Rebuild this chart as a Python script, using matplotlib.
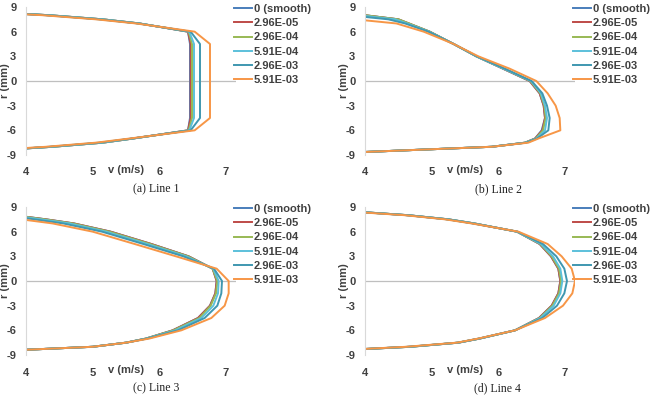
import matplotlib
matplotlib.use('Agg')

import matplotlib.pyplot as plt
import matplotlib.transforms as mtransforms

plt.rcParams['axes.unicode_minus'] = False

# radial positions (mm) shared by every profile
r_mm = [8.8, 8, 7.5, 7, 6, 4.5, 3, 1.5, 0, -1.5, -3, -4.5, -6, -7, -7.5, -8, -8.8]

labels = ['0 (smooth)', '2.96E-05', '2.96E-04', '5.91E-04', '2.96E-03', '5.91E-03']
captions = ['(a) Line 1', '(b) Line 2', '(c) Line 3', '(d) Line 4']

# velocity v (m/s) at each r, one row per roughness value
line1 = [
    [2.5, 4.35, 5.15, 5.7, 6.43, 6.46, 6.46, 6.46, 6.46, 6.46, 6.46, 6.46, 6.43, 5.6, 5.15, 4.4, 2.8],
    [2.5, 4.35, 5.15, 5.7, 6.43, 6.47, 6.47, 6.47, 6.47, 6.47, 6.47, 6.47, 6.43, 5.6, 5.15, 4.4, 2.8],
    [2.5, 4.35, 5.15, 5.7, 6.44, 6.49, 6.49, 6.49, 6.49, 6.49, 6.49, 6.49, 6.44, 5.6, 5.15, 4.4, 2.8],
    [2.5, 4.35, 5.15, 5.7, 6.45, 6.52, 6.52, 6.52, 6.52, 6.52, 6.52, 6.52, 6.45, 5.6, 5.15, 4.4, 2.8],
    [2.5, 4.3, 5.1, 5.68, 6.47, 6.61, 6.61, 6.61, 6.61, 6.61, 6.61, 6.61, 6.47, 5.58, 5.1, 4.35, 2.8],
    [2.4, 4.25, 5.05, 5.65, 6.53, 6.76, 6.76, 6.76, 6.76, 6.76, 6.76, 6.76, 6.53, 5.55, 5.05, 4.3, 2.7],
]
line2 = [
    [3.1, 4.0, 4.5, 4.65, 4.97, 5.33, 5.67, 6.07, 6.47, 6.62, 6.68, 6.7, 6.65, 6.55, 6.4, 5.9, 3.5],
    [3.1, 4.0, 4.5, 4.66, 4.97, 5.33, 5.67, 6.07, 6.47, 6.62, 6.68, 6.7, 6.66, 6.55, 6.4, 5.9, 3.5],
    [3.1, 4.0, 4.5, 4.66, 4.97, 5.33, 5.67, 6.08, 6.48, 6.63, 6.69, 6.71, 6.67, 6.56, 6.4, 5.9, 3.5],
    [3.0, 3.9, 4.45, 4.63, 4.96, 5.33, 5.67, 6.08, 6.49, 6.64, 6.7, 6.73, 6.7, 6.57, 6.41, 5.9, 3.5],
    [2.6, 3.75, 4.35, 4.6, 4.95, 5.33, 5.68, 6.1, 6.5, 6.66, 6.73, 6.77, 6.75, 6.58, 6.42, 5.9, 3.5],
    [2.0, 3.1, 3.85, 4.47, 4.88, 5.33, 5.7, 6.17, 6.57, 6.74, 6.86, 6.92, 6.93, 6.6, 6.45, 5.9, 3.5],
]
line3 = [
    [3.0, 3.82, 4.3, 4.72, 5.27, 5.88, 6.44, 6.8, 6.86, 6.84, 6.76, 6.58, 6.2, 5.8, 5.5, 5.0, 2.8],
    [3.0, 3.82, 4.3, 4.72, 5.27, 5.88, 6.44, 6.8, 6.86, 6.84, 6.76, 6.58, 6.2, 5.8, 5.5, 5.0, 2.8],
    [3.0, 3.8, 4.28, 4.7, 5.25, 5.86, 6.43, 6.8, 6.87, 6.85, 6.77, 6.6, 6.21, 5.8, 5.5, 5.0, 2.8],
    [2.9, 3.75, 4.22, 4.65, 5.2, 5.82, 6.4, 6.81, 6.89, 6.88, 6.81, 6.63, 6.24, 5.81, 5.5, 5.0, 2.8],
    [2.8, 3.65, 4.12, 4.56, 5.14, 5.76, 6.36, 6.82, 6.94, 6.93, 6.87, 6.68, 6.28, 5.82, 5.5, 5.0, 2.8],
    [2.6, 3.45, 3.93, 4.4, 5.0, 5.63, 6.25, 6.86, 7.04, 7.04, 6.98, 6.78, 6.33, 5.85, 5.5, 5.0, 2.8],
]
line4 = [
    [3.2, 4.65, 5.25, 5.64, 6.28, 6.62, 6.79, 6.9, 6.93, 6.9, 6.8, 6.61, 6.25, 5.72, 5.4, 4.68, 2.7],
    [3.2, 4.65, 5.25, 5.64, 6.28, 6.62, 6.79, 6.9, 6.93, 6.9, 6.8, 6.61, 6.25, 5.72, 5.4, 4.68, 2.7],
    [3.2, 4.65, 5.25, 5.64, 6.28, 6.63, 6.8, 6.91, 6.94, 6.91, 6.81, 6.62, 6.25, 5.72, 5.4, 4.68, 2.7],
    [3.2, 4.65, 5.25, 5.64, 6.28, 6.64, 6.82, 6.93, 6.96, 6.93, 6.83, 6.63, 6.25, 5.72, 5.4, 4.68, 2.7],
    [3.15, 4.63, 5.23, 5.62, 6.29, 6.67, 6.87, 6.99, 7.03, 6.99, 6.88, 6.66, 6.25, 5.71, 5.39, 4.65, 2.7],
    [3.1, 4.6, 5.2, 5.6, 6.3, 6.74, 6.95, 7.1, 7.15, 7.11, 6.97, 6.7, 6.25, 5.7, 5.38, 4.62, 2.7],
]

colors = ['#4a7ebb', '#be4b48', '#98b954', '#5cc0da', '#3f97b0', '#f79646']
tick_font = {'family': 'Liberation Sans', 'weight': 'bold', 'size': 8}

W, H = 659.0, 413.0
fig = plt.figure(figsize=(W / 100, H / 100), dpi=100)

# (left, top) of each plot area in pixels, and caption centres
boxes = [(26, 7), (365, 7), (26, 207), (365, 207)]
cap_pos = [(156, 189), (498, 189), (156, 388), (497, 388)]
aw, ah = 210, 148

for k, data in enumerate([line1, line2, line3, line4]):
    x0, y0 = boxes[k]
    ax = fig.add_axes([x0 / W, 1 - (y0 + ah) / H, aw / W, ah / H])
    for vals, lab, c in zip(data, labels, colors):
        ax.plot(vals, r_mm, color=c, lw=1.4, label=lab)
    ax.axhline(0, color='#bfbfbf', lw=0.9, zorder=0)

    ax.set_xlim(4, 7.15)
    ax.set_ylim(-9, 9)
    ax.set_xticks([4, 5, 6, 7])
    ax.set_yticks([-9, -6, -3, 0, 3, 6, 9])
    for s in ['top', 'right', 'bottom']:
        ax.spines[s].set_visible(False)
    ax.spines['left'].set_color('#d9d9d9')
    ax.tick_params(length=0, colors='#404040', pad=9)
    ax.tick_params(axis='y', pad=7)
    for t in ax.get_xticklabels() + ax.get_yticklabels():
        t.set_fontproperties(tick_font)

    trans = mtransforms.blended_transform_factory(ax.transData, ax.transAxes)
    ax.text(5.5, -0.1, 'v (m/s)', transform=trans, ha='center', va='center',
            color='#404040', fontdict=tick_font)
    ax.text(-0.1, 0.5, 'r (mm)', transform=ax.transAxes, rotation=90,
            ha='center', va='center', color='#404040', fontdict=tick_font)

    ax.legend(loc='upper left', bbox_to_anchor=(0.99, 1.02), frameon=False,
              borderpad=0, borderaxespad=0, handlelength=1.6, handletextpad=0.2,
              labelspacing=0.38, prop=tick_font, labelcolor='#404040')

    fig.text(cap_pos[k][0] / W, 1 - cap_pos[k][1] / H, captions[k],
             ha='center', va='center', family='Liberation Serif', fontsize=8.5,
             color='#222222')

fig.savefig('out.png', dpi=100)
